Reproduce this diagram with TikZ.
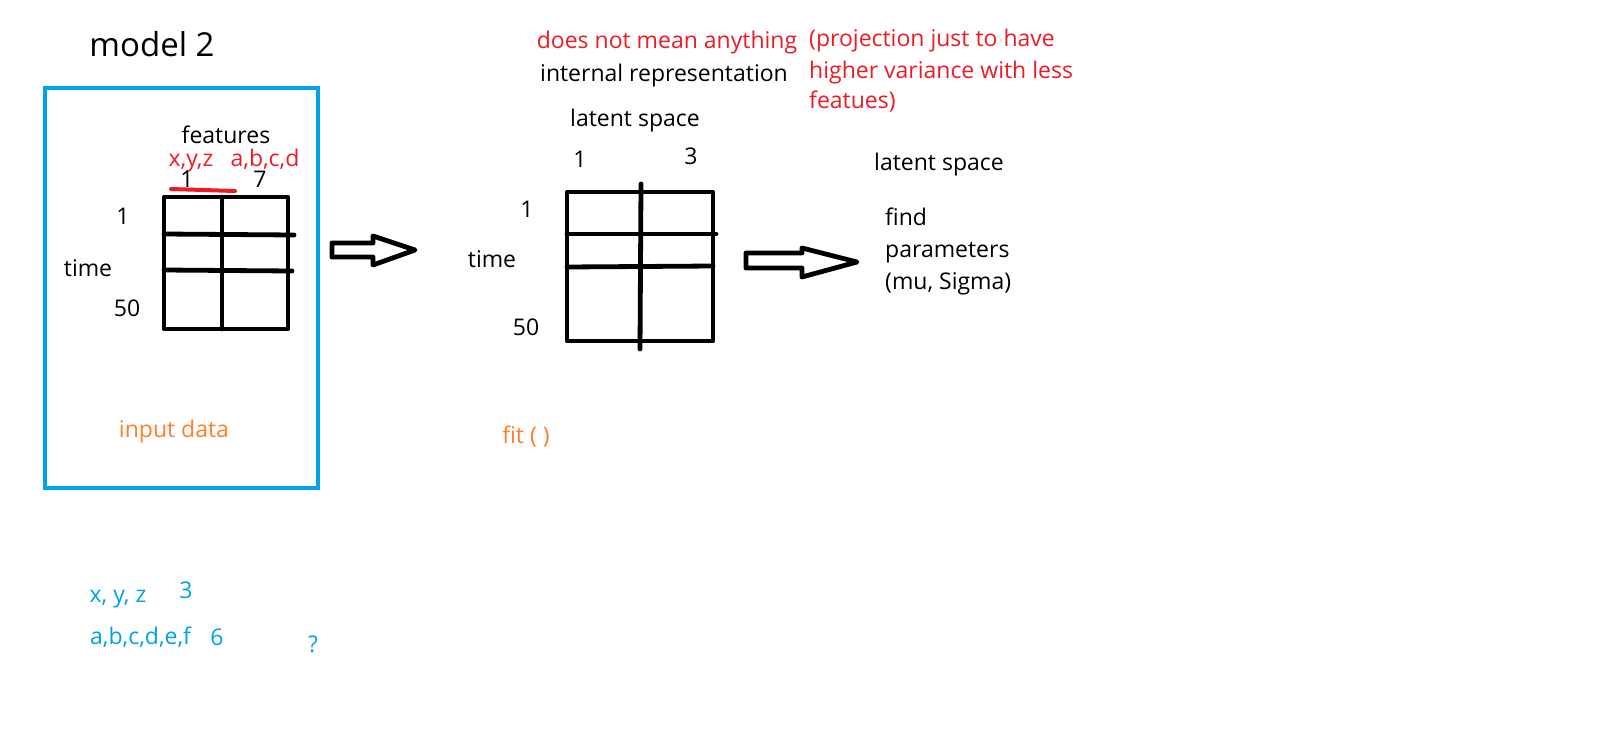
\documentclass[tikz,border=0pt]{standalone}
\usepackage{fontspec}
\setmainfont{Open Sans}
\definecolor{pblue}{RGB}{0,162,232}
\definecolor{pred}{RGB}{237,28,36}
\definecolor{porange}{RGB}{255,127,39}
\begin{document}
\begin{tikzpicture}[x=1pt,y=-1pt,
  txt/.style={anchor=base,inner sep=0pt,font=\fontsize{23}{27}\selectfont},
  ltxt/.style={txt,anchor=base west},
  grid/.style={line width=4.8pt,line cap=round,line join=round,black},
  blockarrow/.style={line width=4.8pt,line join=round,black,fill=white}]
\fill[white] (0,0) rectangle (1613,728);
\useasboundingbox (0,0) rectangle (1613,728);

% title
\node[txt,font=\fontsize{33}{38}\selectfont] (title) at (152,56) {model 2};

% blue frame
\draw[pblue,line width=4.8pt] (45,88) rectangle (318,488);

% left grid
\draw[grid] (164,197) rectangle (288,329);
\draw[grid] (222,197) -- (222,329);
\draw[grid] (164,234) -- (294,235);
\draw[grid] (164,270) -- (292,271);
\node[txt] (feat) at (226,143) {features};
\node[txt,pred] (xyz) at (191,166) {x,y,z};
\node[txt,pred] (abcd) at (265,166) {a,b,c,d};
\node[txt] (c1) at (187,187) {1};
\node[txt] (c7) at (260,187) {7};
\draw[pred,line width=4pt,line cap=round] (171,189) -- (235,191);
\node[txt] (r1) at (123,224) {1};
\node[txt] (time1) at (88,276) {time};
\node[txt] (r50) at (127,316) {50};
\node[txt,porange] (input) at (174,437) {input data};

% arrow 1
\draw[blockarrow] (332,243) -- (373,243) -- (373,236) -- (415,250) -- (373,265) -- (373,257) -- (332,257) -- cycle;

% middle grid
\draw[grid] (567,192) rectangle (713,341);
\draw[grid] (641,184) -- (640,349);
\draw[grid] (567,234) -- (716,234);
\draw[grid] (567,267) -- (713,266);
\node[txt,pred] (dnm) at (667,48) {does not mean anything};
\node[txt] (irep) at (664,81) {internal representation};
\node[txt] (lat1) at (635,126) {latent space};
\node[txt] (m1) at (580,167) {1};
\node[txt] (m3) at (691,164) {3};
\node[txt] (mr1) at (527,217) {1};
\node[txt] (time2) at (492,267) {time};
\node[txt] (mr50) at (526,335) {50};
\node[txt,porange] (fit) at (526,443) {fit ( )};

% arrow 2
\draw[blockarrow] (746,253) -- (802,253) -- (802,248) -- (857,262) -- (802,277) -- (802,268) -- (746,268) -- cycle;

% right text
\node[ltxt,pred] (proj1) at (809,46) {(projection just to have};
\node[ltxt,pred] (proj2) at (809,78) {higher variance with less};
\node[ltxt,pred] (proj3) at (809,108) {featues)};
\node[txt] (lat2) at (939,170) {latent space};
\node[ltxt] (find) at (885,225) {find};
\node[ltxt] (param) at (885,257) {parameters};
\node[ltxt] (musig) at (885,289) {(mu, Sigma)};

% bottom blue notes
\node[txt,pblue] (bxyz) at (118,602) {x, y, z};
\node[txt,pblue] (b3) at (186,598) {3};
\node[ltxt,pblue] (babc) at (90,644) {a,b,c,d,e,f};
\node[txt,pblue] (b6) at (217,645) {6};
\node[txt,pblue] (bq) at (313,652) {?};
\end{tikzpicture}
\end{document}
